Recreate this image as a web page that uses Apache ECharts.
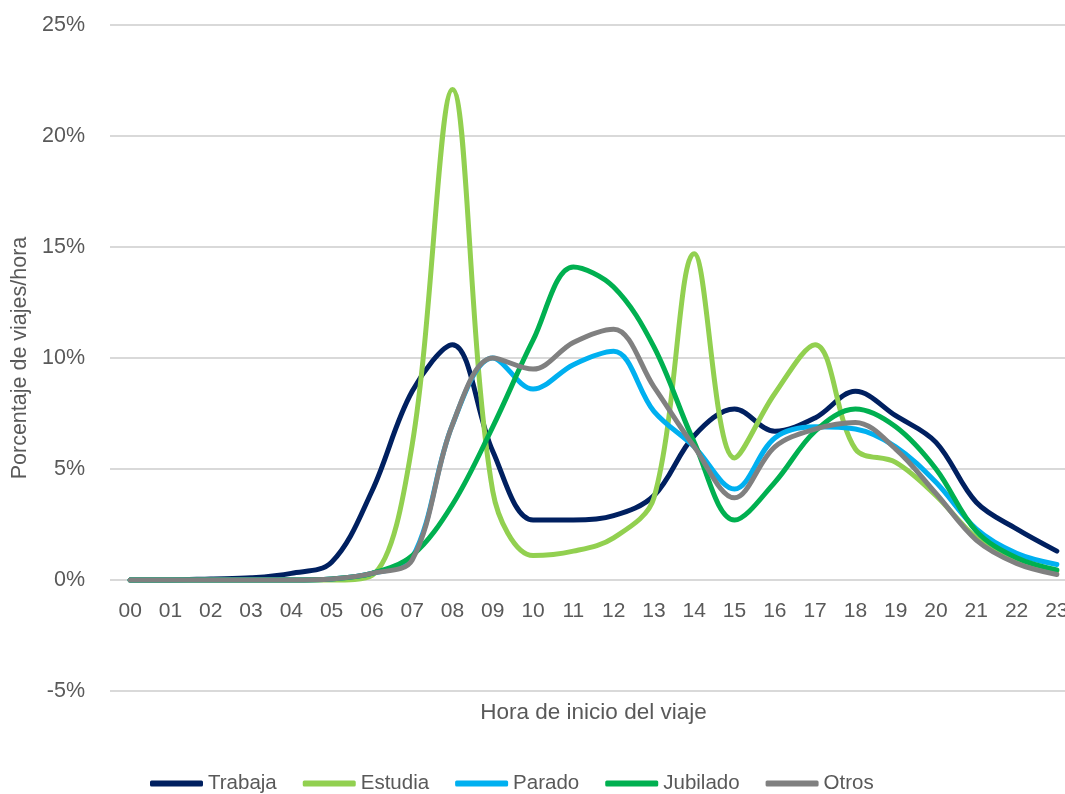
<!DOCTYPE html>
<html>
<head>
<meta charset="utf-8">
<script src="https://cdn.jsdelivr.net/npm/echarts@6/dist/echarts.min.js"></script>
<style>html,body{margin:0;padding:0;background:#fff}#c{width:1065px;height:794px}</style>
</head>
<body>
<div id="c"></div>
<script>
const hours = ['00','01','02','03','04','05','06','07','08','09','10','11','12','13','14','15','16','17','18','19','20','21','22','23'];
const trabaja  = [0, 0, 0.05, 0.1, 0.3, 0.8, 4.0, 8.5, 10.6, 5.8, 2.7, 2.7, 2.9, 3.8, 6.5, 7.7, 6.7, 7.3, 8.5, 7.4, 6.2, 3.5, 2.3, 1.3];
const estudia  = [0, 0, 0, 0, 0, 0, 0.2, 6.1, 22.1, 4.0, 1.1, 1.3, 1.9, 3.7, 14.7, 5.5, 8.4, 10.6, 5.9, 5.3, 3.8, 1.9, 0.8, 0.4];
const parado   = [0, 0, 0, 0, 0, 0.05, 0.3, 1.0, 7.0, 10.0, 8.6, 9.7, 10.3, 7.6, 6.0, 4.1, 6.4, 6.9, 6.8, 6.0, 4.4, 2.3, 1.2, 0.7];
const jubilado = [0, 0, 0, 0, 0, 0.05, 0.3, 1.1, 3.4, 6.9, 10.8, 14.1, 13.2, 10.5, 6.2, 2.7, 4.4, 6.7, 7.7, 6.9, 5.0, 2.2, 1.0, 0.45];
const otros    = [0, 0, 0, 0, 0, 0.05, 0.3, 0.9, 7.0, 10.0, 9.5, 10.7, 11.3, 8.7, 6.0, 3.7, 6.0, 6.8, 7.1, 5.9, 3.9, 1.8, 0.75, 0.25];
const seriesNames = ['Trabaja','Estudia','Parado','Jubilado','Otros'];
const seriesColors = ['#002060','#92D050','#00B0F0','#00B050','#808080'];
const seriesData = [trabaja, estudia, parado, jubilado, otros];

const FONT = '"Liberation Sans", Arial, sans-serif';
const TXT = '#595959';
const chart = echarts.init(document.getElementById('c'));
chart.setOption({
  animation: false,
  backgroundColor: '#fff',
  grid: { left: 110, width: 967, top: 25, bottom: 103, containLabel: false, outerBoundsMode: 'none' },
  legend: {
    top: 768, left: 145,
    icon: 'roundRect',
    itemWidth: 53, itemHeight: 6, itemGap: 26,
    textStyle: { fontFamily: FONT, fontSize: 20.5, color: TXT },
    data: seriesNames
  },
  xAxis: {
    type: 'category',
    data: hours,
    boundaryGap: true,
    axisLine: { show: false, onZero: false },
    axisTick: { show: false },
    axisLabel: { fontFamily: FONT, fontSize: 21, color: TXT, margin: -90, interval: 0 },
    name: 'Hora de inicio del viaje',
    nameLocation: 'middle',
    nameGap: 10,
    nameTextStyle: { fontFamily: FONT, fontSize: 22.5, color: TXT }
  },
  yAxis: {
    type: 'value',
    min: -5, max: 25, interval: 5,
    axisLine: { show: false },
    axisTick: { show: false },
    splitLine: { lineStyle: { color: '#d9d9d9', width: 2 } },
    axisLabel: { fontFamily: FONT, fontSize: 21.5, color: TXT, margin: 25, formatter: v => v + '%' },
    name: 'Porcentaje de viajes/hora',
    nameLocation: 'middle',
    nameGap: 70,
    nameTextStyle: { fontFamily: FONT, fontSize: 21.5, color: TXT }
  },
  series: seriesNames.map((n, i) => ({
    name: n,
    type: 'line',
    data: seriesData[i],
    smooth: 0.35,
    symbol: 'none',
    lineStyle: { color: seriesColors[i], width: 5, cap: 'round' },
    itemStyle: { color: seriesColors[i] }
  }))
});
</script>
</body>
</html>
